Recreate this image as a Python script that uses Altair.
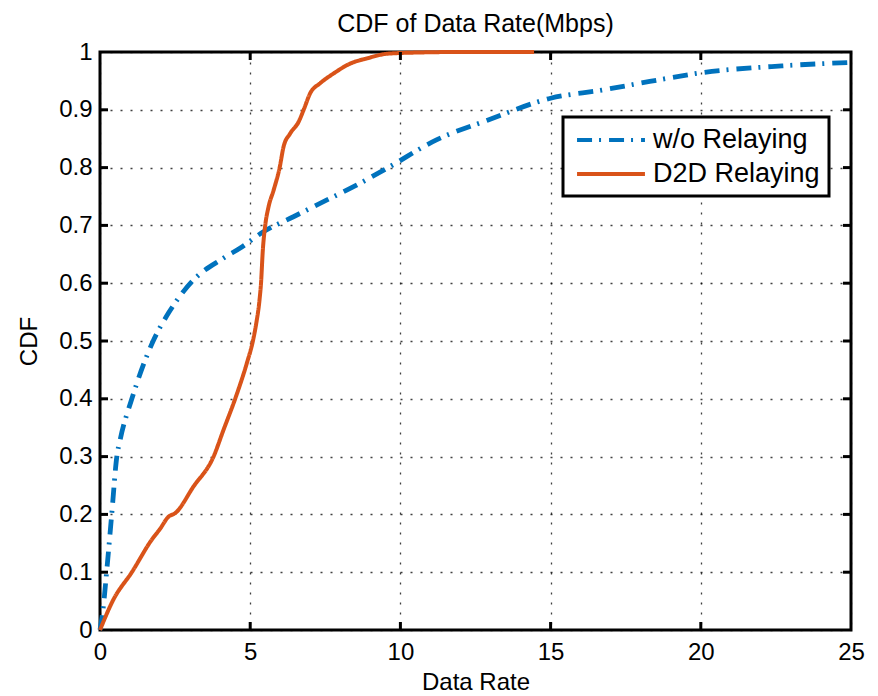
import altair as alt
import pandas as pd

# ---- data ----
series_names = ["w/o Relaying", "D2D Relaying"]
series_colors = ["#0072BD", "#D95319"]
series_dashes = [[15, 7, 2, 8], [1, 0]]

blue_x = [0, 0.11, 0.22, 0.39, 0.56, 0.67, 1.06, 1.77, 2.3, 3.1, 4.1, 4.67, 5.44,
          6.44, 7.44, 8.44, 9.56, 11.2, 12.9, 15, 16.7, 18.3, 20, 22.7, 25]
blue_y = [0, 0.04, 0.1, 0.2, 0.3, 0.329, 0.4, 0.5, 0.55, 0.605, 0.643, 0.661, 0.689,
          0.715, 0.741, 0.767, 0.799, 0.848, 0.882, 0.92, 0.934, 0.949, 0.964, 0.976, 0.982]

orange_x = [0, 0.44, 1.06, 1.72, 2.0, 2.28, 2.5, 3.11, 3.78, 4.11, 4.5, 4.89, 5.09, 5.2,
            5.31, 5.36, 5.42, 5.5, 5.61, 5.78, 5.98, 6.11, 6.33, 6.61, 6.78, 7.0, 7.33,
            7.78, 8.33, 8.89, 9.56, 10.5, 12, 14.45]
orange_y = [0, 0.052, 0.1, 0.156, 0.175, 0.196, 0.202, 0.248, 0.3, 0.346, 0.4, 0.462, 0.5,
            0.53, 0.571, 0.6, 0.657, 0.7, 0.732, 0.761, 0.8, 0.836, 0.859, 0.879, 0.9, 0.929,
            0.946, 0.963, 0.98, 0.989, 0.997, 0.999, 1.0, 1.0]

x_ticks = [0, 5, 10, 15, 20, 25]
y_ticks = [0, 0.1, 0.2, 0.3, 0.4, 0.5, 0.6, 0.7, 0.8, 0.9, 1]
x_inner = [5, 10, 15, 20]
y_inner = [0.1, 0.2, 0.3, 0.4, 0.5, 0.6, 0.7, 0.8, 0.9]

chart_title = "CDF of Data Rate(Mbps)"
x_title = "Data Rate"
y_title = "CDF"

# ---- tables ----
df_blue = pd.DataFrame({"rate": blue_x, "cdf": blue_y, "series": series_names[0]})
df_orange = pd.DataFrame({"rate": orange_x, "cdf": orange_y, "series": series_names[1]})
df_xt = pd.DataFrame({"rate": x_inner})
df_yt = pd.DataFrame({"cdf": y_inner})

W, H = 751, 578
FONT = "Liberation Sans"

x_scale = alt.Scale(domain=[0, 25], nice=False, zero=False)
y_scale = alt.Scale(domain=[0, 1], nice=False, zero=False)

legend = alt.Legend(
    title=None, orient="none", legendX=463, legendY=65,
    symbolType="M-2.83,0H2.83", symbolSize=576, symbolStrokeWidth=4,
    labelFont=FONT, labelFontSize=27, labelColor="black", labelLimit=400,
    labelOffset=28, rowPadding=7, padding=9, symbolOffset=25,
    strokeColor="black", fillColor="white", cornerRadius=0,
)

x_enc = alt.X("rate:Q", scale=x_scale,
              axis=alt.Axis(values=x_ticks, title=x_title, format="~g", labelFlush=False,
                            labelPadding=10, titlePadding=6))
y_enc = alt.Y("cdf:Q", scale=y_scale,
              axis=alt.Axis(values=y_ticks, title=y_title, format="~g", labelFlush=False,
                            labelPadding=8, titlePadding=17))
color_enc = alt.Color("series:N", scale=alt.Scale(domain=series_names, range=series_colors),
                      legend=legend)
dash_enc = alt.StrokeDash("series:N", scale=alt.Scale(domain=series_names, range=series_dashes),
                          legend=legend)

blue_line = alt.Chart(df_blue).mark_line(strokeWidth=4.8, interpolate="monotone", strokeCap="butt").encode(
    x=x_enc, y=y_enc, color=color_enc, strokeDash=dash_enc)
orange_line = alt.Chart(df_orange).mark_line(strokeWidth=4, interpolate="monotone").encode(
    x=x_enc, y=y_enc, color=color_enc, strokeDash=dash_enc)

tick_style = dict(color="black", strokeWidth=3)
top_ticks = alt.Chart(df_xt).mark_rule(**tick_style).encode(
    x=x_enc, y=alt.value(0), y2=alt.value(8))
bottom_ticks = alt.Chart(df_xt).mark_rule(**tick_style).encode(
    x=x_enc, y=alt.value(H), y2=alt.value(H - 8))
left_ticks = alt.Chart(df_yt).mark_rule(**tick_style).encode(
    y=y_enc, x=alt.value(0), x2=alt.value(8))
right_ticks = alt.Chart(df_yt).mark_rule(**tick_style).encode(
    y=y_enc, x=alt.value(W), x2=alt.value(W - 8))

chart = alt.layer(
    blue_line, orange_line, top_ticks, bottom_ticks, left_ticks, right_ticks
).properties(
    width=W, height=H,
    title=alt.TitleParams(chart_title, font=FONT, fontSize=25, fontWeight="normal",
                          color="black", offset=3, frame="group", anchor="middle"),
    autosize=alt.AutoSizeParams(type="none"),
    padding={"left": 92, "top": 44, "right": 19, "bottom": 66},
).configure_view(
    stroke="black", strokeWidth=3
).configure_axis(
    domain=False, ticks=False,
    labelFont=FONT, labelFontSize=24, labelColor="black",
    titleFont=FONT, titleFontSize=24, titleColor="black", titleFontWeight="normal",
    grid=True, gridColor="black", gridOpacity=0.75, gridWidth=1.3, gridDash=[2, 8],
).configure_legend(
    strokeWidth=3
)

chart.save("out.html", embed_options={"renderer": "svg", "actions": False})
